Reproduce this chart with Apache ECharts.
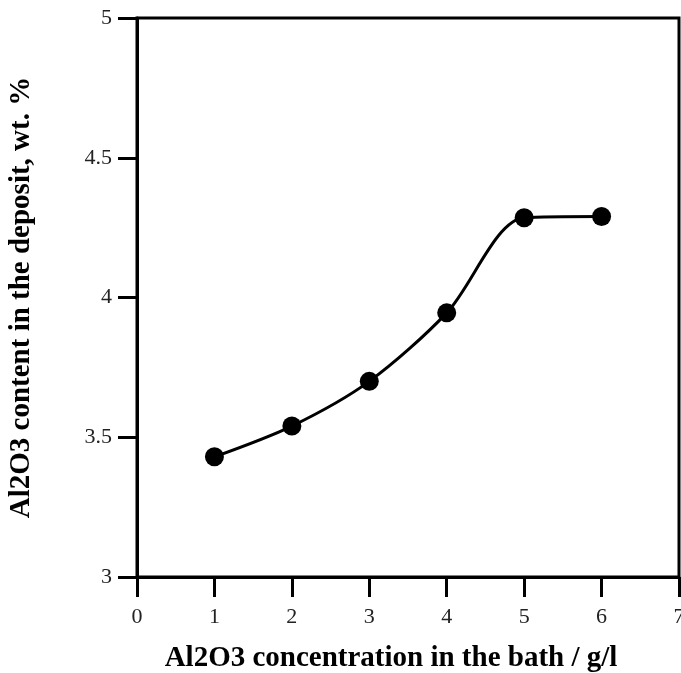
<!DOCTYPE html>
<html>
<head>
<meta charset="utf-8">
<script src="https://cdn.jsdelivr.net/npm/echarts@6/dist/echarts.min.js"></script>
<style>
  html, body { margin: 0; padding: 0; background: #fff; }
  #chart { width: 681px; height: 673px; }
</style>
</head>
<body>
<div id="chart"></div>
<script>
// Al2O3 in the bath (g/l) vs Al2O3 content in the deposit (wt. %)
const bathConcentration = [1, 2, 3, 4, 5, 6];
const depositContent = [3.43, 3.54, 3.70, 3.945, 4.285, 4.29];

const xTitle = 'Al2O3 concentration in the bath / g/l';
const yTitle = 'Al2O3 content in the deposit, wt. %';

const serif = '"Liberation Serif", "DejaVu Serif", serif';
const ink = '#000';

const chart = echarts.init(document.getElementById('chart'), null, { renderer: 'canvas' });

chart.setOption({
  backgroundColor: '#fff',
  animation: false,
  grid: {
    left: 137, right: 2, top: 18, bottom: 96,
    outerBoundsMode: 'none', containLabel: false,
    show: true, borderColor: ink, borderWidth: 3, backgroundColor: 'transparent'
  },
  xAxis: {
    type: 'value', min: 0, max: 7, interval: 1,
    name: xTitle, nameLocation: 'middle', nameGap: 67,
    nameTextStyle: { fontFamily: serif, fontWeight: 'bold', fontSize: 29, color: ink,
      padding: [0, 34, 0, 0] },
    axisLine: { show: true, onZero: false, lineStyle: { color: ink, width: 3 } },
    axisTick: { show: true, length: 20, lineStyle: { color: ink, width: 3 } },
    axisLabel: { fontFamily: serif, fontSize: 22, color: '#222', margin: 29 },
    splitLine: { show: false }
  },
  yAxis: {
    type: 'value', min: 3, max: 5, interval: 0.5,
    name: yTitle, nameLocation: 'middle', nameGap: 101, nameRotate: 90,
    nameTextStyle: { fontFamily: serif, fontWeight: 'bold', fontSize: 29, color: ink },
    axisLine: { show: true, onZero: false, lineStyle: { color: ink, width: 3 } },
    axisTick: { show: true, length: 19, lineStyle: { color: ink, width: 3 } },
    axisLabel: { fontFamily: serif, fontSize: 22, color: '#222', margin: 25,
      formatter: v => String(v) },
    splitLine: { show: false }
  },
  series: [{
    type: 'line',
    data: bathConcentration.map((x, i) => [x, depositContent[i]]),
    smooth: 0.3,
    symbol: 'circle',
    symbolSize: 19,
    itemStyle: { color: ink },
    lineStyle: { color: ink, width: 3 }
  }]
});
</script>
</body>
</html>
